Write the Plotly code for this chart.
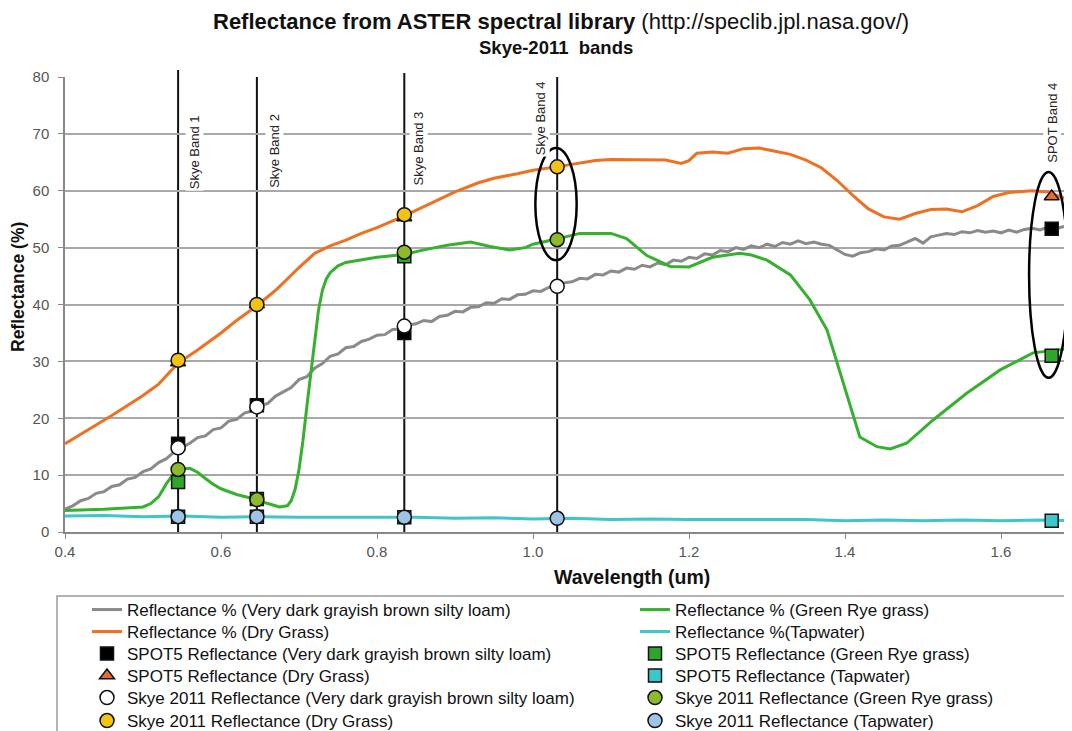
import plotly.graph_objects as go

# ---------------- data ----------------
loam_wl = [0.40, 0.41, 0.42, 0.43, 0.44, 0.45, 0.46, 0.47, 0.48, 0.49,
           0.50, 0.51, 0.52, 0.53, 0.54, 0.55, 0.56, 0.57, 0.58, 0.59,
           0.60, 0.61, 0.62, 0.63, 0.64, 0.65, 0.66, 0.67, 0.68, 0.69,
           0.70, 0.71, 0.72, 0.73, 0.74, 0.75, 0.76, 0.77, 0.78, 0.79,
           0.80, 0.81, 0.82, 0.83, 0.84, 0.85, 0.86, 0.87, 0.88, 0.89,
           0.90, 0.91, 0.92, 0.93, 0.94, 0.95, 0.96, 0.97, 0.98, 0.99,
           1.00, 1.01, 1.02, 1.03, 1.04, 1.05, 1.06, 1.07, 1.08, 1.09,
           1.10, 1.11, 1.12, 1.13, 1.14, 1.15, 1.16, 1.17, 1.18, 1.19,
           1.20, 1.21, 1.22, 1.23, 1.24, 1.25, 1.26, 1.27, 1.28, 1.29,
           1.30, 1.31, 1.32, 1.33, 1.34, 1.35, 1.36, 1.37, 1.38, 1.39,
           1.40, 1.41, 1.42, 1.43, 1.44, 1.45, 1.46, 1.47, 1.48, 1.49,
           1.50, 1.51, 1.52, 1.53, 1.54, 1.55, 1.56, 1.57, 1.58, 1.59,
           1.60, 1.61, 1.62, 1.63, 1.64, 1.65, 1.66, 1.67, 1.68, 1.69]
loam_refl = [4.0, 4.6, 5.5, 5.9, 6.8, 7.1, 8.0, 8.3, 9.3, 9.6,
             10.6, 11.1, 12.2, 12.9, 14.1, 14.9, 15.6, 16.6, 16.9, 18.0,
             18.3, 19.5, 19.8, 20.9, 21.3, 22.2, 22.6, 23.9, 24.6, 25.4,
             26.8, 27.3, 28.8, 29.6, 30.9, 31.3, 32.4, 32.6, 33.5, 33.9,
             34.6, 34.7, 35.6, 35.7, 36.4, 36.6, 37.2, 37.0, 37.9, 38.1,
             38.8, 38.7, 39.5, 39.6, 40.3, 40.2, 41.0, 40.9, 41.7, 41.8,
             42.4, 42.3, 43.0, 43.1, 43.8, 44.0, 44.6, 44.5, 45.3, 45.2,
             45.9, 45.7, 46.4, 46.2, 46.9, 46.6, 47.3, 47.0, 47.8, 47.6,
             48.3, 48.1, 48.9, 48.7, 49.5, 49.3, 50.0, 49.7, 50.3, 50.0,
             50.6, 50.2, 50.9, 50.6, 51.2, 50.7, 51.0, 50.6, 50.4, 49.6,
             48.8, 48.5, 49.1, 49.3, 49.8, 49.6, 50.3, 50.4, 51.0, 51.6,
             50.8, 51.9, 52.2, 52.5, 52.3, 52.8, 52.6, 53.0, 52.7, 52.9,
             52.6, 53.1, 52.7, 53.2, 53.4, 53.1, 53.6, 53.3, 53.7, 53.5]

dry_wl = [0.40, 0.43, 0.46, 0.50, 0.52, 0.545, 0.57, 0.60, 0.62, 0.646,
          0.67, 0.70, 0.72, 0.74, 0.76, 0.78, 0.80, 0.835, 0.86, 0.88,
          0.90, 0.93, 0.95, 0.98, 1.00, 1.03, 1.06, 1.08, 1.10, 1.14,
          1.17, 1.19, 1.20, 1.21, 1.23, 1.25, 1.27, 1.29, 1.31, 1.33,
          1.35, 1.37, 1.39, 1.41, 1.43, 1.45, 1.47, 1.49, 1.51, 1.53,
          1.55, 1.57, 1.59, 1.61, 1.64, 1.66, 1.69]
dry_refl = [15.5, 18.0, 20.5, 24.0, 26.0, 29.7, 32.0, 35.0, 37.2, 39.8,
            42.5, 46.5, 49.0, 50.3, 51.3, 52.5, 53.5, 55.6, 57.2, 58.6,
            59.8, 61.4, 62.2, 63.0, 63.6, 64.2, 64.9, 65.3, 65.5, 65.5,
            65.4, 64.8, 65.3, 66.6, 66.8, 66.6, 67.4, 67.5, 67.0, 66.4,
            65.4, 64.0, 61.8, 59.2, 56.8, 55.4, 55.0, 56.0, 56.7, 56.8,
            56.3, 57.4, 59.0, 59.7, 60.0, 59.8, 58.2]

rye_wl = [0.40, 0.45, 0.50, 0.51, 0.52, 0.53, 0.54, 0.55, 0.56, 0.57,
          0.58, 0.59, 0.60, 0.62, 0.646, 0.66, 0.675, 0.685, 0.69, 0.695,
          0.70, 0.705, 0.71, 0.715, 0.72, 0.725, 0.73, 0.735, 0.74, 0.75,
          0.76, 0.78, 0.80, 0.835, 0.86, 0.89, 0.92, 0.945, 0.97, 0.99,
          1.00, 1.03, 1.06, 1.10, 1.12, 1.146, 1.176, 1.20, 1.23, 1.265,
          1.28, 1.30, 1.33, 1.355, 1.377, 1.39, 1.406, 1.419, 1.441, 1.458,
          1.479, 1.513, 1.556, 1.599, 1.641, 1.69]
rye_refl = [3.8, 4.0, 4.4, 5.0, 6.2, 8.5, 10.4, 11.1, 11.2, 10.5,
            9.4, 8.4, 7.6, 6.6, 5.7, 5.0, 4.4, 4.6, 5.5, 7.5,
            11.0, 16.0, 22.0, 28.0, 34.0, 39.0, 42.5, 44.5, 45.6, 46.8,
            47.4, 47.8, 48.3, 48.8, 49.6, 50.4, 51.0, 50.2, 49.6, 50.0,
            50.6, 51.5, 52.5, 52.5, 51.6, 48.6, 46.7, 46.6, 48.3, 49.0,
            48.7, 47.8, 45.2, 40.8, 35.5, 29.7, 22.7, 16.7, 15.0, 14.6,
            15.6, 19.7, 24.4, 28.5, 31.5, 32.3]

tap_wl = [0.40, 0.45, 0.50, 0.55, 0.60, 0.65, 0.70, 0.75, 0.80, 0.85,
          0.90, 0.95, 1.00, 1.05, 1.10, 1.15, 1.20, 1.25, 1.30, 1.35,
          1.40, 1.45, 1.50, 1.55, 1.60, 1.65, 1.69]
tap_refl = [2.8, 2.9, 2.7, 2.8, 2.6, 2.7, 2.6, 2.6, 2.5, 2.6,
            2.4, 2.5, 2.3, 2.4, 2.2, 2.3, 2.2, 2.2, 2.1, 2.2,
            2.0, 2.1, 2.0, 2.1, 2.0, 2.1, 2.0]

skye_wl = [0.545, 0.646, 0.835, 1.031]
skye_loam = [14.8, 22.0, 36.2, 43.2]
skye_dry = [30.2, 40.0, 55.8, 64.2]
skye_rye = [11.0, 5.7, 49.2, 51.4]
skye_tap = [2.7, 2.7, 2.6, 2.4]

spot_wl = [0.545, 0.646, 0.835, 1.665]
spot_loam = [15.5, 22.3, 35.0, 53.3]
spot_dry = [29.8, 40.0, 55.3, 59.0]
spot_rye = [8.8, 5.8, 48.5, 31.0]
spot_tap = [2.7, 2.7, 2.6, 2.0]

band_labels = ["Skye Band 1", "Skye Band 2", "Skye Band 3", "Skye Band 4", "SPOT Band 4"]
band_wl = [0.545, 0.646, 0.835, 1.031, 1.665]

# ---------------- figure ----------------
FONT = "Liberation Sans, Arial, sans-serif"
# page has an 8px body margin; figure sized to fit the 1072x731 window exactly
W, H = 1064, 723
ML, MR, MT, MB = 57, 0, 69, 199
PW, PH = W - ML - MR, H - MT - MB          # 1007 x 455
SX0, SY0 = 65, 532                          # screen pixel of plot left / bottom


def py(screen_y):
    return (SY0 - screen_y) / PH


def px(screen_x):
    return (screen_x - SX0) / PW


fig = go.Figure()

row_y = [610, 632, 654, 676, 698, 721]
legend_cfg = {}


def leg(col, row):
    idx = col * 6 + row
    name = "legend" if idx == 0 else f"legend{idx + 1}"
    legend_cfg[name] = dict(
        x=px(87) if col == 0 else px(635), xanchor="left",
        y=py(row_y[row]), yanchor="middle",
        bgcolor="rgba(0,0,0,0)", borderwidth=0,
        font=dict(family=FONT, size=17, color="#111"),
        itemwidth=30,
    )
    return name


line_specs = [
    ("Reflectance % (Very dark grayish brown silty loam)", loam_wl, loam_refl, "#8a8a8a", (0, 0)),
    ("Reflectance % (Dry Grass)", dry_wl, dry_refl, "#F07022", (0, 1)),
    ("Reflectance % (Green Rye grass)", rye_wl, rye_refl, "#35B12F", (1, 0)),
    ("Reflectance %(Tapwater)", tap_wl, tap_refl, "#3EC6C9", (1, 1)),
]
for name, xs, ys, col, (c, r) in line_specs:
    fig.add_trace(go.Scatter(x=xs, y=ys, mode="lines", name=name,
                             line=dict(color=col, width=3),
                             legend=leg(c, r)))

mk_line = dict(color="#111", width=1.5)
spot_specs = [
    ("SPOT5 Reflectance (Very dark grayish brown silty loam)", spot_loam, "square", "#000000", (0, 2)),
    ("SPOT5 Reflectance (Dry Grass)", spot_dry, "triangle-up", "#E96B2B", (0, 3)),
    ("SPOT5 Reflectance (Green Rye grass)", spot_rye, "square", "#2FA52B", (1, 2)),
    ("SPOT5 Reflectance (Tapwater)", spot_tap, "square", "#3CC8CB", (1, 3)),
]
for name, ys, sym, col, (c, r) in spot_specs:
    fig.add_trace(go.Scatter(x=spot_wl, y=ys, mode="markers", name=name,
                             marker=dict(symbol=sym, size=13, color=col, line=mk_line),
                             legend=leg(c, r)))

skye_specs = [
    ("Skye 2011 Reflectance (Very dark grayish brown silty loam)", skye_loam, "#FFFFFF", (0, 4)),
    ("Skye 2011 Reflectance (Dry Grass)", skye_dry, "#F2C314", (0, 5)),
    ("Skye 2011 Reflectance (Green Rye grass)", skye_rye, "#8DBA2A", (1, 4)),
    ("Skye 2011 Reflectance (Tapwater)", skye_tap, "#9DC3E6", (1, 5)),
]
for name, ys, col, (c, r) in skye_specs:
    fig.add_trace(go.Scatter(x=skye_wl, y=ys, mode="markers", name=name,
                             marker=dict(symbol="circle", size=14, color=col, line=mk_line),
                             legend=leg(c, r)))

# band lines
band_tops = [py(70), py(77), py(73), py(77)]
for xv, top in zip(band_wl[:4], band_tops):
    fig.add_shape(type="line", xref="x", yref="paper", x0=xv, x1=xv, y0=0, y1=top,
                  line=dict(color="#111", width=2), layer="below")

# band labels
label_y = [66.8, 67.0, 67.5, 72.8, 71.9]
label_shift = [16, 18, 14, -16, 0]
for t, xv, yv, sh in zip(band_labels, band_wl, label_y, label_shift):
    fig.add_annotation(x=xv, y=yv, xref="x", yref="y", text=t, textangle=-90,
                       xshift=sh, showarrow=False, bgcolor="white",
                       xanchor="center", yanchor="middle",
                       font=dict(family=FONT, size=13, color="#222"))

# ellipses
fig.add_shape(type="circle", xref="x", yref="y", x0=1.003, x1=1.056, y0=47.8, y1=67.5,
              line=dict(color="#000", width=2.5))
fig.add_shape(type="circle", xref="x", yref="y", x0=1.636, x1=1.686, y0=27.1, y1=63.3,
              line=dict(color="#000", width=2.5))

# legend box
fig.add_shape(type="rect", xref="paper", yref="paper", x0=px(57), x1=1.2, y0=py(596), y1=-0.9,
              line=dict(color="#9a9a9a", width=1.5), fillcolor="rgba(0,0,0,0)", layer="below")

# titles
fig.add_annotation(xref="paper", yref="paper", x=px(561), y=py(22), showarrow=False,
                   xanchor="center", yanchor="middle",
                   text="<b>Reflectance from ASTER spectral library</b> (http://speclib.jpl.nasa.gov/)",
                   font=dict(family=FONT, size=22, color="#111"))
fig.add_annotation(xref="paper", yref="paper", x=px(556), y=py(47), showarrow=False,
                   xanchor="center", yanchor="middle",
                   text="<b>Skye-2011  bands</b>",
                   font=dict(family=FONT, size=18.5, color="#111"))
fig.add_annotation(xref="paper", yref="paper", x=px(632), y=py(577), showarrow=False,
                   xanchor="center", yanchor="middle",
                   text="<b>Wavelength (um)</b>",
                   font=dict(family=FONT, size=19.5, color="#111"))
fig.add_annotation(xref="paper", yref="paper", x=px(18), y=py(287), showarrow=False,
                   xanchor="center", yanchor="middle",
                   text="<b>Reflectance (%)</b>", textangle=-90,
                   font=dict(family=FONT, size=17.5, color="#111"))

fig.update_layout(
    width=W, height=H,
    margin=dict(l=ML, r=MR, t=MT, b=MB, autoexpand=False),
    paper_bgcolor="white", plot_bgcolor="white",
    showlegend=True,
    font=dict(family=FONT, color="#444"),
    **legend_cfg,
)
fig.update_xaxes(range=[0.4, 0.4 + PW / 780.0], tickvals=[0.4, 0.6, 0.8, 1.0, 1.2, 1.4, 1.6],
                 ticktext=["0.4", "0.6", "0.8", "1.0", "1.2", "1.4", "1.6"],
                 showgrid=False, zeroline=False, showline=True, linecolor="#888", linewidth=1.5,
                 ticks="outside", ticklen=5, tickcolor="#888",
                 tickfont=dict(family=FONT, size=15, color="#555"))
fig.update_yaxes(range=[0, 80], dtick=10, showgrid=True, gridcolor="#a8a8a8", gridwidth=1.5,
                 zeroline=False, showline=True, linecolor="#888", linewidth=1.5,
                 ticks="outside", ticklen=5, tickcolor="#888", ticklabelstandoff=6,
                 tickfont=dict(family=FONT, size=15, color="#555"))

fig.write_html("out.html")
